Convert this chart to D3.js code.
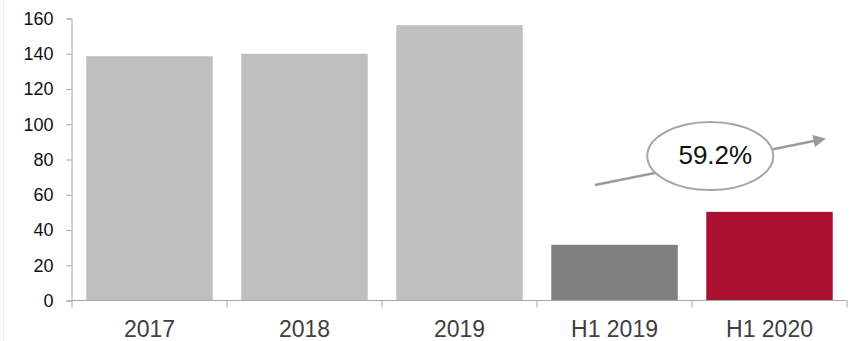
<!DOCTYPE html>
<html>
<head>
<meta charset="utf-8">
<script src="https://cdn.jsdelivr.net/npm/d3@7"></script>
<style>
  html, body { margin: 0; padding: 0; background: #fff; }
  svg { display: block; font-family: "Liberation Sans", Arial, sans-serif; }
</style>
</head>
<body>
<div id="chart"></div>
<script>
// chart data
var categories = ["2017", "2018", "2019", "H1 2019", "H1 2020"];
var values = [138.6, 140, 156.2, 31.6, 50.3];
var barColors = ["#bfbfbf", "#bfbfbf", "#bfbfbf", "#7f7f7f", "#ab1031"];
var yTicks = [0, 20, 40, 60, 80, 100, 120, 140, 160];
var growthLabel = "59.2%";

var width = 854, height = 341;
var margin = { top: 18.5, right: 7, bottom: 40.5, left: 72 };

var svg = d3.select("#chart").append("svg")
  .attr("width", width).attr("height", height);

// faint frame line on the left edge
svg.append("line")
  .attr("x1", 3.5).attr("x2", 3.5).attr("y1", 0).attr("y2", height)
  .attr("stroke", "#eeeeee");

var x = d3.scaleBand().domain(categories)
  .range([margin.left, width - margin.right])
  .paddingInner(0).paddingOuter(0);
var barPad = 0.092; // fraction of band left empty on each side

var y = d3.scaleLinear().domain([0, 160])
  .range([height - margin.bottom, margin.top]);

// bars
svg.selectAll("rect.bar").data(values).enter().append("rect")
  .attr("class", "bar")
  .attr("x", function (d, i) { return x(categories[i]) + x.bandwidth() * barPad; })
  .attr("width", x.bandwidth() * (1 - 2 * barPad))
  .attr("y", function (d) { return y(d); })
  .attr("height", function (d) { return y(0) - y(d); })
  .attr("fill", function (d, i) { return barColors[i]; });

// y axis
var yAxis = svg.append("g")
  .attr("transform", "translate(" + (margin.left - 0.5) + ",0)")
  .call(d3.axisLeft(y).tickValues(yTicks).tickSize(5).tickPadding(13).tickSizeOuter(5));
yAxis.select(".domain").attr("stroke", "#a6a6a6");
yAxis.selectAll(".tick line").attr("stroke", "#a6a6a6");
yAxis.selectAll(".tick text").attr("font-size", 18).attr("fill", "#111").attr("font-family", "Liberation Sans, Arial, sans-serif");

// x axis with ticks on category boundaries
var xg = svg.append("g").attr("transform", "translate(0," + y(0) + ")");
xg.append("line")
  .attr("x1", x.range()[0]).attr("x2", x.range()[1])
  .attr("stroke", "#a6a6a6");
var bounds = categories.map(function (c) { return x(c); }).concat([x.range()[1]]);
xg.selectAll("line.tk").data(bounds).enter().append("line")
  .attr("class", "tk")
  .attr("x1", function (d) { return d; }).attr("x2", function (d) { return d; })
  .attr("y1", 0).attr("y2", 7)
  .attr("stroke", "#a6a6a6");
xg.selectAll("text").data(categories).enter().append("text")
  .attr("x", function (d) { return x(d) + x.bandwidth() / 2; })
  .attr("y", 36)
  .attr("text-anchor", "middle")
  .attr("font-size", 23)
  .attr("fill", "#404040")
  .text(function (d) { return d; });

// growth annotation: arrow from H1 2019 toward H1 2020 with ellipse label
var arrowFrom = { cat: "H1 2019", frac: 0.374, value: 65.5 };
var arrowTo = { cat: "H1 2020", frac: 0.87, value: 92 };
var bubble = { cat: "H1 2020", frac: 0.118, value: 82 };
function ax(p) { return x(p.cat) + x.bandwidth() * p.frac; }

var defs = svg.append("defs");
defs.append("marker")
  .attr("id", "head").attr("viewBox", "0 0 10 10")
  .attr("refX", 2).attr("refY", 5)
  .attr("markerWidth", 5.5).attr("markerHeight", 5)
  .attr("orient", "auto")
  .append("path").attr("d", "M0,0L10,5L0,10z").attr("fill", "#9a9a9a");

var x1 = ax(arrowFrom), y1 = y(arrowFrom.value), x2 = ax(arrowTo), y2 = y(arrowTo.value);
var ang = Math.atan2(y2 - y1, x2 - x1);
svg.append("line")
  .attr("x1", x1).attr("y1", y1)
  .attr("x2", x2 - 11 * Math.cos(ang)).attr("y2", y2 - 11 * Math.sin(ang))
  .attr("stroke", "#9a9a9a").attr("stroke-width", 2.5)
  .attr("marker-end", "url(#head)");

var bx = ax(bubble), by = y(bubble.value);
svg.append("ellipse")
  .attr("cx", bx).attr("cy", by).attr("rx", 63).attr("ry", 34)
  .attr("fill", "#fff").attr("stroke", "#a6a6a6").attr("stroke-width", 2);
svg.append("text")
  .attr("x", bx + 5).attr("y", by + 8)
  .attr("text-anchor", "middle")
  .attr("font-size", 26)
  .attr("fill", "#111")
  .text(growthLabel);
</script>
</body>
</html>
